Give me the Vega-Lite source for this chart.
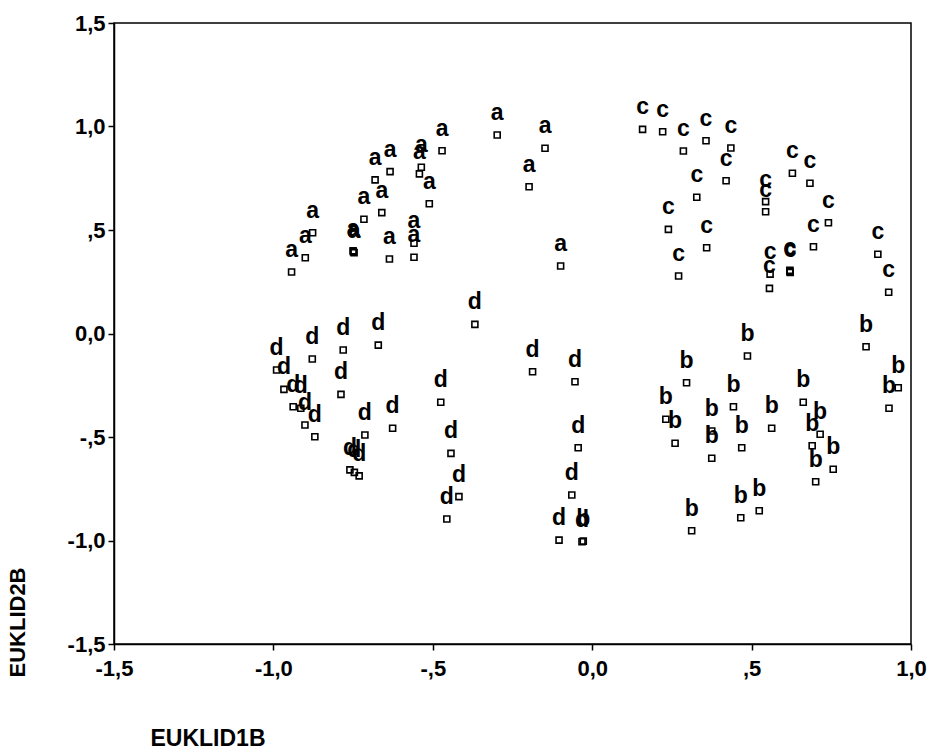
{
  "$schema": "https://vega.github.io/schema/vega-lite/v6.json",
  "width": 797,
  "height": 621,
  "autosize": {"type": "none"},
  "padding": {"left": 114, "top": 23, "right": 19, "bottom": 112},
  "background": "white",
  "config": {
    "view": {"stroke": "black", "strokeWidth": 1.5},
    "axis": {
      "domainColor": "black", "domainWidth": 1.5,
      "tickColor": "black", "tickWidth": 1.5, "tickSize": 6,
      "grid": false,
      "labelFont": "Liberation Sans", "labelFontSize": 22, "labelFontWeight": "bold", "labelColor": "black",
      "titleFont": "Liberation Sans", "titleColor": "black", "titleFontWeight": "bold"
    }
  },
  "data": {
    "values": [
      {"x": -0.298, "y": 0.959, "g": "a"},
      {"x": -0.471, "y": 0.883, "g": "a"},
      {"x": -0.634, "y": 0.782, "g": "a"},
      {"x": -0.536, "y": 0.803, "g": "a"},
      {"x": -0.542, "y": 0.771, "g": "a"},
      {"x": -0.681, "y": 0.742, "g": "a"},
      {"x": -0.511, "y": 0.627, "g": "a"},
      {"x": -0.660, "y": 0.584, "g": "a"},
      {"x": -0.716, "y": 0.552, "g": "a"},
      {"x": -0.877, "y": 0.487, "g": "a"},
      {"x": -0.900, "y": 0.366, "g": "a"},
      {"x": -0.943, "y": 0.297, "g": "a"},
      {"x": -0.750, "y": 0.400, "g": "a"},
      {"x": -0.749, "y": 0.395, "g": "a"},
      {"x": -0.747, "y": 0.390, "g": "a"},
      {"x": -0.636, "y": 0.360, "g": "a"},
      {"x": -0.559, "y": 0.436, "g": "a"},
      {"x": -0.559, "y": 0.368, "g": "a"},
      {"x": -0.148, "y": 0.895, "g": "a"},
      {"x": -0.198, "y": 0.709, "g": "a"},
      {"x": -0.099, "y": 0.326, "g": "a"},
      {"x": 0.158, "y": 0.986, "g": "c"},
      {"x": 0.221, "y": 0.975, "g": "c"},
      {"x": 0.286, "y": 0.882, "g": "c"},
      {"x": 0.357, "y": 0.931, "g": "c"},
      {"x": 0.435, "y": 0.896, "g": "c"},
      {"x": 0.420, "y": 0.738, "g": "c"},
      {"x": 0.328, "y": 0.658, "g": "c"},
      {"x": 0.239, "y": 0.503, "g": "c"},
      {"x": 0.359, "y": 0.414, "g": "c"},
      {"x": 0.271, "y": 0.278, "g": "c"},
      {"x": 0.544, "y": 0.637, "g": "c"},
      {"x": 0.544, "y": 0.588, "g": "c"},
      {"x": 0.628, "y": 0.774, "g": "c"},
      {"x": 0.683, "y": 0.726, "g": "c"},
      {"x": 0.741, "y": 0.535, "g": "c"},
      {"x": 0.694, "y": 0.419, "g": "c"},
      {"x": 0.558, "y": 0.287, "g": "c"},
      {"x": 0.556, "y": 0.218, "g": "c"},
      {"x": 0.620, "y": 0.305, "g": "c"},
      {"x": 0.620, "y": 0.300, "g": "c"},
      {"x": 0.621, "y": 0.295, "g": "c"},
      {"x": 0.896, "y": 0.383, "g": "c"},
      {"x": 0.930, "y": 0.199, "g": "c"},
      {"x": -0.368, "y": 0.044, "g": "d"},
      {"x": -0.671, "y": -0.056, "g": "d"},
      {"x": -0.781, "y": -0.080, "g": "d"},
      {"x": -0.878, "y": -0.123, "g": "d"},
      {"x": -0.990, "y": -0.176, "g": "d"},
      {"x": -0.967, "y": -0.270, "g": "d"},
      {"x": -0.938, "y": -0.354, "g": "d"},
      {"x": -0.914, "y": -0.361, "g": "d"},
      {"x": -0.901, "y": -0.442, "g": "d"},
      {"x": -0.870, "y": -0.499, "g": "d"},
      {"x": -0.788, "y": -0.294, "g": "d"},
      {"x": -0.713, "y": -0.490, "g": "d"},
      {"x": -0.626, "y": -0.458, "g": "d"},
      {"x": -0.760, "y": -0.659, "g": "d"},
      {"x": -0.746, "y": -0.671, "g": "d"},
      {"x": -0.731, "y": -0.688, "g": "d"},
      {"x": -0.475, "y": -0.332, "g": "d"},
      {"x": -0.443, "y": -0.579, "g": "d"},
      {"x": -0.418, "y": -0.788, "g": "d"},
      {"x": -0.456, "y": -0.896, "g": "d"},
      {"x": -0.187, "y": -0.185, "g": "d"},
      {"x": -0.054, "y": -0.233, "g": "d"},
      {"x": -0.044, "y": -0.552, "g": "d"},
      {"x": -0.064, "y": -0.780, "g": "d"},
      {"x": -0.104, "y": -0.998, "g": "d"},
      {"x": -0.032, "y": -1.006, "g": "d"},
      {"x": -0.028, "y": -1.003, "g": "b"},
      {"x": 0.487, "y": -0.109, "g": "b"},
      {"x": 0.296, "y": -0.238, "g": "b"},
      {"x": 0.443, "y": -0.354, "g": "b"},
      {"x": 0.231, "y": -0.414, "g": "b"},
      {"x": 0.260, "y": -0.530, "g": "b"},
      {"x": 0.375, "y": -0.471, "g": "b"},
      {"x": 0.375, "y": -0.603, "g": "b"},
      {"x": 0.469, "y": -0.552, "g": "b"},
      {"x": 0.563, "y": -0.458, "g": "b"},
      {"x": 0.662, "y": -0.332, "g": "b"},
      {"x": 0.715, "y": -0.487, "g": "b"},
      {"x": 0.690, "y": -0.542, "g": "b"},
      {"x": 0.756, "y": -0.656, "g": "b"},
      {"x": 0.701, "y": -0.716, "g": "b"},
      {"x": 0.859, "y": -0.064, "g": "b"},
      {"x": 0.960, "y": -0.262, "g": "b"},
      {"x": 0.931, "y": -0.361, "g": "b"},
      {"x": 0.312, "y": -0.953, "g": "b"},
      {"x": 0.466, "y": -0.890, "g": "b"},
      {"x": 0.524, "y": -0.856, "g": "b"}
    ]
  },
  "encoding": {
    "x": {
      "field": "x", "type": "quantitative",
      "scale": {"domain": [-1.5, 1.0], "nice": false, "zero": false},
      "axis": {
        "values": [-1.5, -1, -0.5, 0, 0.5, 1],
        "labelExpr": "datum.value == 1 ? '1,0' : datum.value == 0.5 ? ',5' : datum.value == 0 ? '0,0' : datum.value == -0.5 ? '-,5' : datum.value == -1 ? '-1,0' : '-1,5'",
        "labelPadding": 8,
        "labelFlush": false,
        "title": "EUKLID1B",
        "titleFontSize": 23,
        "titleAlign": "left",
        "titleBaseline": "alphabetic",
        "titleX": 36,
        "titleY": 101
      }
    },
    "y": {
      "field": "y", "type": "quantitative",
      "scale": {"domain": [-1.5, 1.5], "nice": false, "zero": false},
      "axis": {
        "values": [-1.5, -1, -0.5, 0, 0.5, 1, 1.5],
        "labelExpr": "datum.value == 1.5 ? '1,5' : datum.value == 1 ? '1,0' : datum.value == 0.5 ? ',5' : datum.value == 0 ? '0,0' : datum.value == -0.5 ? '-,5' : datum.value == -1 ? '-1,0' : '-1,5'",
        "labelPadding": 3,
        "labelFlush": false,
        "labelBaseline": "middle",
        "title": "EUKLID2B",
        "titleFontSize": 22,
        "titleAngle": -90,
        "titleAlign": "center",
        "titleBaseline": "middle",
        "titleX": -97,
        "titleY": 599
      }
    }
  },
  "layer": [
    {
      "mark": {"type": "point", "shape": "square", "filled": false, "size": 36, "strokeWidth": 1.6, "color": "black", "opacity": 1}
    },
    {
      "mark": {"type": "text", "align": "center", "baseline": "alphabetic", "dy": -15, "font": "Liberation Sans", "fontSize": 23, "fontWeight": "bold", "color": "black"},
      "encoding": {"text": {"field": "g"}}
    }
  ]
}
